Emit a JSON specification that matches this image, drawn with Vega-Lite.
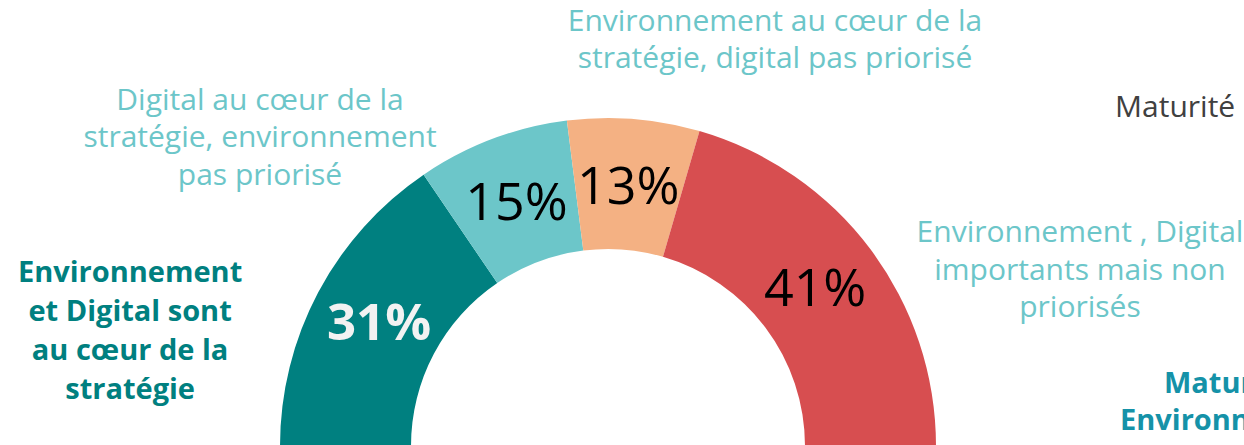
{
  "$schema": "https://vega.github.io/schema/vega-lite/v6.json",
  "usermeta": {"embedOptions": {"actions": false}},
  "width": 1216,
  "height": 892,
  "autosize": {"type": "none"},
  "padding": {"left": 0, "top": 0, "right": 28, "bottom": 0},
  "background": "white",
  "config": {"view": {"stroke": null}, "font": "Open Sans"},
  "datasets": {
    "segments": [
      {"idx": 1, "segment": "Environnement et Digital sont au cœur de la stratégie", "pct": 31, "label": "31%"},
      {"idx": 2, "segment": "Digital au cœur de la stratégie, environnement pas priorisé", "pct": 15, "label": "15%"},
      {"idx": 3, "segment": "Environnement au cœur de la stratégie, digital pas priorisé", "pct": 13, "label": "13%"},
      {"idx": 4, "segment": "Environnement , Digital importants mais non priorisés", "pct": 41, "label": "41%"}
    ],
    "labels": [
      {"group": "light", "text": ["Environnement au cœur de la", "stratégie, digital pas priorisé"], "ux": 50.9, "uy": 129.3},
      {"group": "light", "text": ["Digital au cœur de la", "stratégie, environnement", "pas priorisé"], "ux": -106.1, "uy": 105.2},
      {"group": "light", "text": ["Environnement , Digital", "importants mais non", "priorisés"], "ux": 143.9, "uy": 64.9},
      {"group": "boldTeal", "text": ["Environnement", "et Digital sont", "au cœur de la", "stratégie"], "ux": -145.7, "uy": 52.7},
      {"group": "gray", "text": "Maturité", "ux": 154.6, "uy": 103.0},
      {"group": "boldBlue", "text": "Maturité", "ux": 169.5, "uy": 18.9},
      {"group": "boldBlue", "text": "Environnement", "ux": 156.1, "uy": 7.6}
    ]
  },
  "layer": [
    {
      "data": {"name": "segments"},
      "mark": {"type": "arc", "innerRadius": 197, "outerRadius": 328},
      "encoding": {
        "theta": {"field": "pct", "type": "quantitative", "stack": true, "scale": {"domain": [0, 100], "range": [-1.5707963, 1.5707963]}},
        "color": {
          "field": "segment", "type": "nominal", "legend": null,
          "scale": {
            "domain": ["Environnement et Digital sont au cœur de la stratégie", "Digital au cœur de la stratégie, environnement pas priorisé", "Environnement au cœur de la stratégie, digital pas priorisé", "Environnement , Digital importants mais non priorisés"],
            "range": ["#008080", "#6CC6C9", "#F4B183", "#D74E50"]
          }
        },
        "order": {"field": "idx", "type": "quantitative"}
      }
    },
    {
      "data": {"name": "segments"},
      "mark": {"type": "text", "radius": 259, "font": "Open Sans", "fontSize": 51, "fontWeight": "bold", "fill": "#F2F2F2", "align": "center", "baseline": "middle"},
      "encoding": {
        "theta": {"field": "pct", "type": "quantitative", "stack": true, "scale": {"domain": [0, 100], "range": [-1.5707963, 1.5707963]}},
        "order": {"field": "idx", "type": "quantitative"},
        "text": {"field": "label", "condition": {"test": "datum.idx !== 1", "value": ""}}
      }
    },
    {
      "data": {"name": "segments"},
      "mark": {"type": "text", "radius": 259, "font": "Open Sans", "fontSize": 52, "fill": "#000000", "align": "center", "baseline": "middle"},
      "encoding": {
        "theta": {"field": "pct", "type": "quantitative", "stack": true, "scale": {"domain": [0, 100], "range": [-1.5707963, 1.5707963]}},
        "order": {"field": "idx", "type": "quantitative"},
        "text": {"field": "label", "condition": {"test": "datum.idx === 1", "value": ""}}
      }
    },
    {
      "data": {"name": "labels"},
      "transform": [{"filter": "datum.group === 'light'"}],
      "mark": {"type": "text", "font": "Open Sans", "fontSize": 30, "lineHeight": 37.5, "fill": "#6CC6C9", "align": "center", "baseline": "middle"},
      "encoding": {
        "x": {"field": "ux", "type": "quantitative", "scale": {"domain": [-185.37, 185.37], "nice": false, "zero": false}, "axis": null},
        "y": {"field": "uy", "type": "quantitative", "scale": {"domain": [-135.98, 135.98], "nice": false, "zero": false}, "axis": null},
        "text": {"field": "text"}
      }
    },
    {
      "data": {"name": "labels"},
      "transform": [{"filter": "datum.group === 'boldTeal'"}],
      "mark": {"type": "text", "font": "Open Sans", "fontSize": 29, "fontWeight": "bold", "lineHeight": 39, "fill": "#008080", "align": "center", "baseline": "middle"},
      "encoding": {
        "x": {"field": "ux", "type": "quantitative", "scale": {"domain": [-185.37, 185.37], "nice": false, "zero": false}, "axis": null},
        "y": {"field": "uy", "type": "quantitative", "scale": {"domain": [-135.98, 135.98], "nice": false, "zero": false}, "axis": null},
        "text": {"field": "text"}
      }
    },
    {
      "data": {"name": "labels"},
      "transform": [{"filter": "datum.group === 'gray'"}],
      "mark": {"type": "text", "font": "Open Sans", "fontSize": 30, "fill": "#404040", "align": "left", "baseline": "middle"},
      "encoding": {
        "x": {"field": "ux", "type": "quantitative", "scale": {"domain": [-185.37, 185.37], "nice": false, "zero": false}, "axis": null},
        "y": {"field": "uy", "type": "quantitative", "scale": {"domain": [-135.98, 135.98], "nice": false, "zero": false}, "axis": null},
        "text": {"field": "text"}
      }
    },
    {
      "data": {"name": "labels"},
      "transform": [{"filter": "datum.group === 'boldBlue'"}],
      "mark": {"type": "text", "font": "Open Sans", "fontSize": 29, "fontWeight": "bold", "fill": "#1592A8", "align": "left", "baseline": "middle"},
      "encoding": {
        "x": {"field": "ux", "type": "quantitative", "scale": {"domain": [-185.37, 185.37], "nice": false, "zero": false}, "axis": null},
        "y": {"field": "uy", "type": "quantitative", "scale": {"domain": [-135.98, 135.98], "nice": false, "zero": false}, "axis": null},
        "text": {"field": "text"}
      }
    }
  ]
}
